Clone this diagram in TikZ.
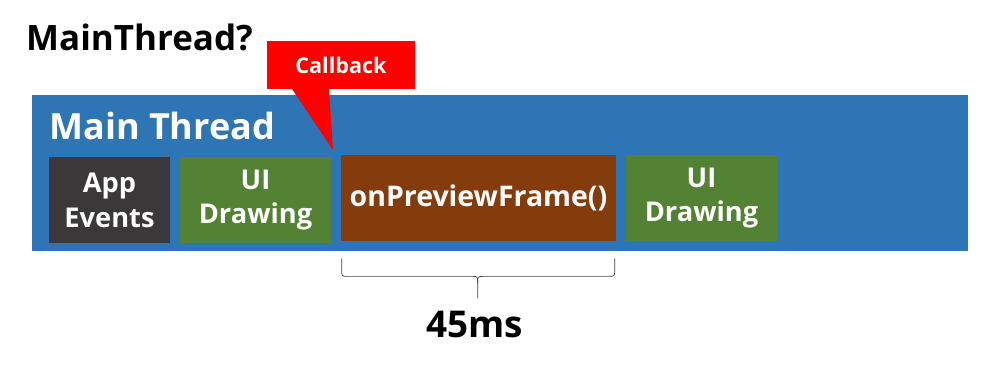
\documentclass[tikz,border=0pt]{standalone}
\usepackage{fontspec}
\setmainfont{Open Sans}
\usepackage{tikz}
\usetikzlibrary{arrows.meta,positioning}

\definecolor{bandblue}{HTML}{2E75B6}
\definecolor{evgray}{HTML}{3A3838}
\definecolor{drawgreen}{HTML}{548235}
\definecolor{framebrown}{HTML}{843C0C}

\begin{document}
\begin{tikzpicture}[x=0.02cm,y=-0.02cm,>=Latex,
  task/.style={fill=#1,text=white,font=\fontsize{15.5}{19.8}\selectfont\bfseries,
    align=center,minimum height=1.72cm,inner sep=0pt}]
\useasboundingbox (0,0) rectangle (994,370);

% Question on top
\node[anchor=base west,font=\fontsize{19.9}{24}\selectfont\bfseries] (question) at (20,50) {MainThread?};

% The thread band and its label
\node[fill=bandblue,minimum width=18.72cm,minimum height=3.12cm,inner sep=0pt] (band) at (500,173) {};
\node[anchor=base west,text=white,font=\fontsize{20.5}{24}\selectfont\bfseries,inner sep=0pt] (bandlabel) at (49,139) {Main Thread};

% Work items on the thread
\node[task=evgray,minimum width=2.42cm] (events) at (109.5,200) {App\\Events};
\node[task=drawgreen,minimum width=3.02cm] (draw1) at (255.5,200) {UI\\Drawing};
\node[task=framebrown,minimum width=5.5cm,font=\fontsize{16.2}{19.8}\selectfont\bfseries] (preview) at (478.5,198) {onPreviewFrame()};
\node[task=drawgreen,minimum width=3.02cm] (draw2) at (701.5,198) {UI\\Drawing};

% Callout
\node[fill=red,text=white,minimum width=2.96cm,minimum height=0.96cm,inner sep=0pt,
  font=\fontsize{12.3}{14}\selectfont\bfseries] (callback) at (341,65) {Callback};
\coordinate (ptrleft) at (292,89);
\coordinate (ptrright) at (329,89);
\coordinate (tip) at (333,150);
\fill[red] (ptrleft) -- (tip) -- (ptrright) -- cycle;

% Duration of the callback
\begin{scope}[shift={(preview.south west)}]
\draw[black!75,line join=round]
  (1,17) -- (1,28) .. controls (1,35) .. (7,35) -- (131,35)
  .. controls (137,35) .. (137,42) -- (137,57);
\draw[black!75,line join=round]
  (137,42) .. controls (137,35) .. (143,35) -- (268,35)
  .. controls (274,35) .. (274,28) -- (274,17);
\end{scope}
\node[anchor=base,font=\fontsize{21}{24}\selectfont\bfseries] (duration) at (474.5,337) {45ms};
\end{tikzpicture}
\end{document}
